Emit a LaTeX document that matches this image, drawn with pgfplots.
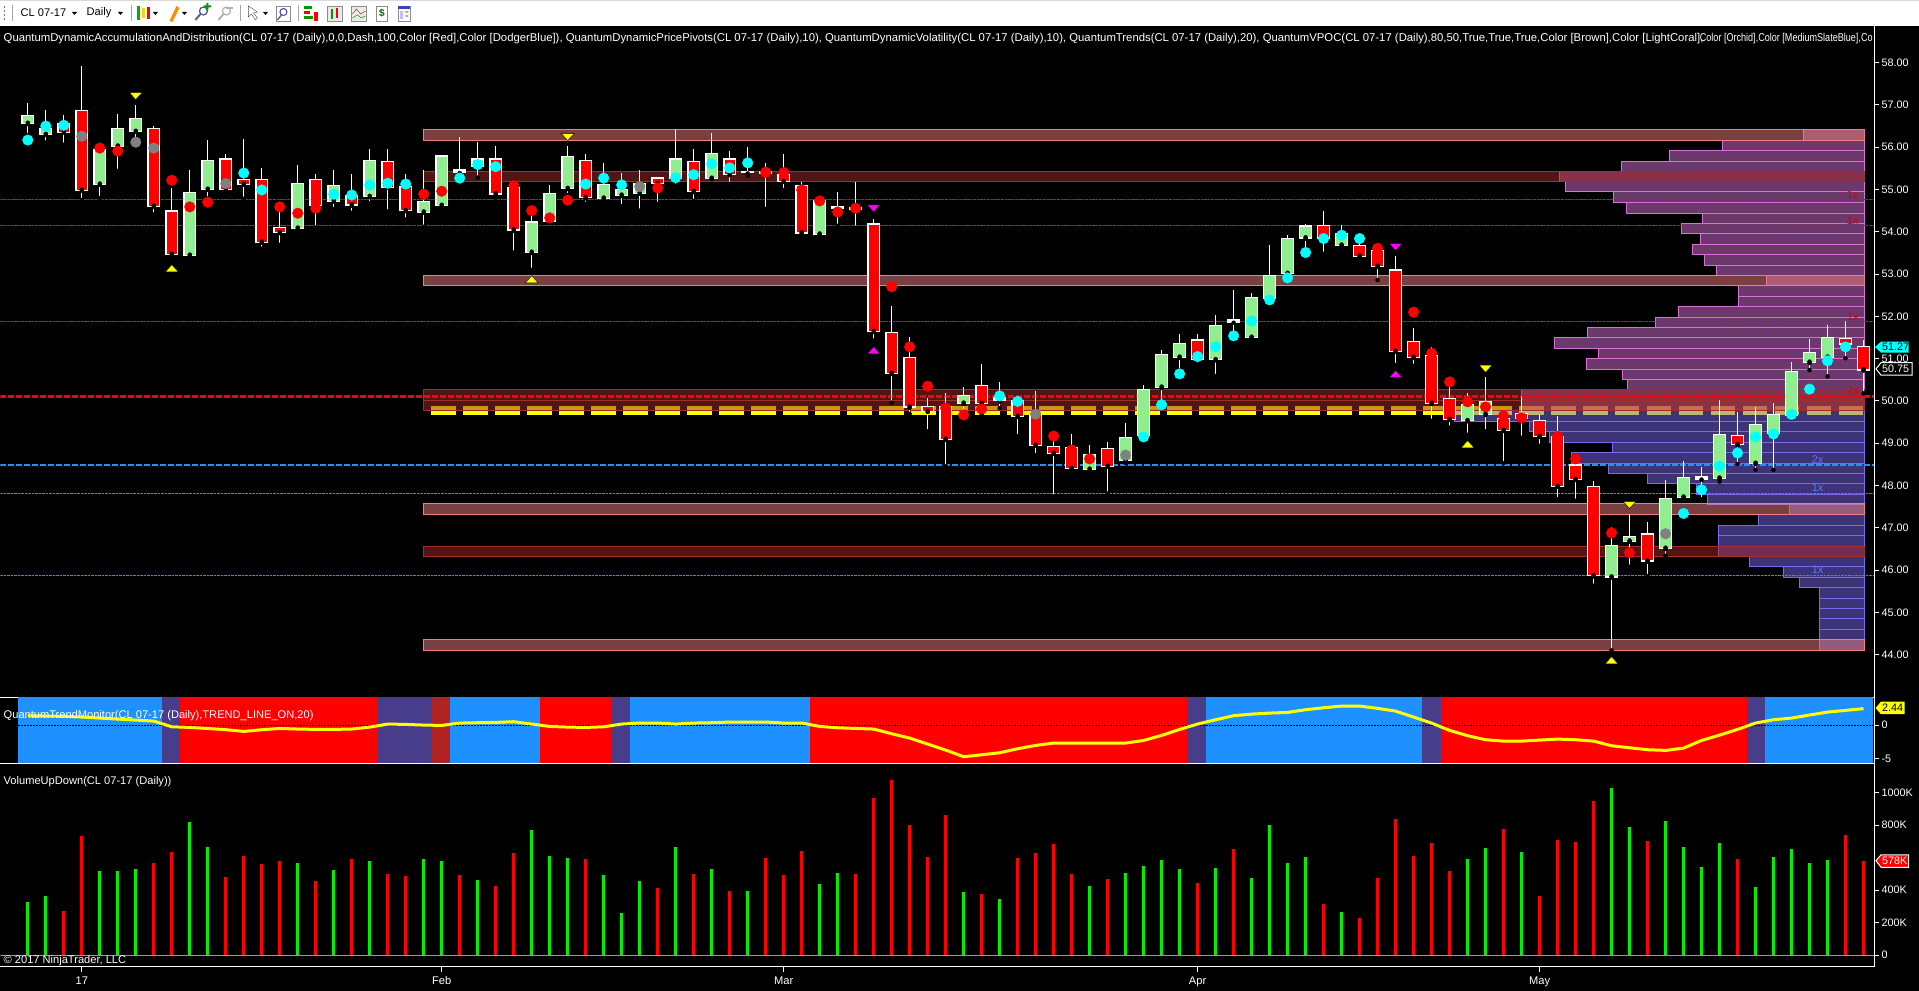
\documentclass[border=0pt]{standalone}
\usepackage{fontspec}
\setmainfont{Liberation Sans}
\usepackage{graphicx}
\usepackage{pgfplots}
\usepackage{pgfplotstable}
\pgfplotsset{compat=1.18}

\definecolor{dodger}{HTML}{1E90FF}
\definecolor{slateb}{HTML}{483D8B}
\definecolor{firebr}{HTML}{B22222}
\definecolor{lgreen}{HTML}{90EE90}
\definecolor{coral}{HTML}{F08080}
\definecolor{brownb}{HTML}{A52A2A}
\definecolor{orchid}{HTML}{DA70D6}
\definecolor{mslate}{HTML}{7B68EE}
\definecolor{volgreen}{HTML}{00F000}
\definecolor{dotcyan}{HTML}{00FFFF}
\definecolor{pivmag}{HTML}{FF00FF}
\definecolor{pivyel}{HTML}{FFFF00}
\definecolor{dotgray}{HTML}{808080}
\newcommand{\tk}{\fontsize{10.8}{12}\selectfont}
\newcommand{\lb}{\fontsize{11.1}{12}\selectfont}
\newcommand{\hd}{\fontsize{11.33}{12}\selectfont}

% candles: high, body top, body bottom, low
\pgfplotstableread{
i hi top bot lo
0 57.05 56.73 56.58 56.29
1 56.88 56.42 56.32 56.11
4 56.09 55.93 55.14 54.80
5 56.79 56.42 56.04 55.44
6 56.99 56.66 56.39 55.97
9 55.46 54.91 53.46 53.41
10 56.17 55.67 55.02 54.79
15 55.58 55.12 54.10 54.03
17 55.46 55.08 54.74 54.54
19 55.96 55.67 54.85 54.67
22 55.46 54.70 54.48 54.12
23 55.82 55.78 54.64 54.52
25 56.12 55.71 55.56 55.28
28 54.50 54.22 53.53 53.10
29 55.11 54.89 54.26 54.22
30 56.03 55.76 55.04 54.87
32 55.62 55.10 54.81 54.74
33 55.40 54.98 54.88 54.61
34 55.46 55.13 54.93 54.50
36 56.42 55.71 55.28 55.09
38 56.33 55.83 55.28 55.25
44 54.83 54.72 53.96 53.92
52 50.33 50.12 49.96 49.51
59 48.95 48.72 48.40 48.27
61 49.48 49.12 48.61 48.53
62 50.38 50.25 49.20 49.16
63 51.21 51.08 50.34 49.95
64 51.58 51.34 51.05 50.73
66 52.03 51.77 50.99 50.59
68 52.55 52.43 51.52 51.49
69 53.69 52.96 52.43 52.25
70 53.92 53.82 53.03 52.90
71 54.18 54.12 53.87 53.51
73 54.16 53.94 53.70 53.57
80 50.18 49.90 49.55 49.20
81 50.57 49.97 49.70 49.28
88 47.03 46.56 45.85 44.10
89 47.33 46.78 46.70 46.08
91 48.13 47.68 46.53 46.34
92 48.58 48.17 47.74 47.68
94 50.02 49.19 48.19 48.09
96 49.86 49.43 48.54 48.37
97 49.95 49.66 49.25 48.37
98 50.91 50.68 49.68 49.59
99 51.46 51.13 50.93 50.73
100 51.80 51.48 51.05 50.58
}\upbars
\pgfplotstableread{
i hi top bot lo
2 56.76 56.55 56.37 56.06
3 57.92 56.86 55.00 54.75
7 56.50 56.42 54.62 54.41
8 55.03 54.48 53.48 53.37
11 55.84 55.71 55.02 54.93
12 56.19 55.22 55.14 54.78
13 55.51 55.22 53.77 53.60
14 54.59 54.08 54.00 53.69
16 55.37 55.22 54.64 54.10
18 55.37 54.84 54.65 54.45
20 55.97 55.64 55.07 54.48
21 55.37 55.05 54.52 54.29
26 56.03 55.71 54.91 54.80
27 55.19 55.03 54.06 53.51
31 55.84 55.68 54.82 54.66
35 55.30 55.26 55.16 54.66
37 55.97 55.64 54.97 54.73
39 55.91 55.71 55.37 55.13
42 55.84 55.34 55.21 54.99
43 55.19 55.08 53.99 53.90
47 54.30 54.17 51.66 51.43
48 52.25 51.60 50.67 49.96
49 51.52 51.01 49.87 49.69
50 50.07 49.85 49.77 49.28
51 50.19 49.85 49.11 48.46
53 50.88 50.35 49.96 49.69
55 50.12 49.99 49.65 49.17
56 50.24 49.67 48.97 48.72
57 49.08 48.91 48.78 47.74
58 49.22 48.88 48.42 48.30
60 49.03 48.86 48.47 47.81
65 51.58 51.43 50.99 50.85
72 54.50 54.13 53.87 53.48
74 53.96 53.67 53.44 53.37
75 53.71 53.54 53.20 52.86
76 53.43 53.08 51.19 50.85
77 51.72 51.39 51.05 50.83
78 51.27 51.06 49.96 49.53
79 50.42 50.04 49.58 49.37
82 49.77 49.57 49.32 48.53
83 50.12 49.69 49.60 49.13
84 49.67 49.52 49.18 48.94
85 49.65 49.14 48.00 47.68
86 48.74 48.47 48.16 47.64
87 48.11 47.96 45.88 45.63
90 47.14 46.84 46.23 45.86
95 49.74 49.17 48.99 48.51
101 51.89 51.47 51.36 51.01
102 51.44 51.27 50.75 50.18
}\downbars
\pgfplotstableread{
i hi top bot lo
24 56.24 55.45 55.42 55.30
40 56.00 55.42 55.41 55.33
41 55.62 55.42 55.39 54.54
45 54.94 54.59 54.57 54.14
46 55.19 54.55 54.54 54.09
54 50.45 50.06 50.02 49.83
67 52.62 51.92 51.88 51.40
93 48.44 48.20 48.17 47.68
}\dojibars

% volume, thousands
\pgfplotstableread{
i v
0 328
1 365
4 518
5 518
6 531
9 820
10 666
15 568
17 525
19 580
22 592
23 580
25 463
28 770
29 611
30 598
32 494
33 260
34 457
36 666
38 531
40 395
44 439
45 506
52 389
54 346
59 426
61 506
62 549
63 586
64 531
66 537
68 475
69 801
70 568
71 604
73 266
80 592
81 660
83 635
88 1029
89 789
91 826
92 666
93 543
94 691
96 420
97 604
98 654
99 568
100 586
}\volup
\pgfplotstableread{
i v
2 273
3 734
7 568
8 635
11 482
12 611
13 561
14 580
16 457
18 592
20 500
21 488
24 494
26 426
27 629
31 592
35 414
37 500
39 395
41 598
42 494
43 641
46 500
47 967
48 1078
49 801
50 604
51 863
53 377
55 598
56 629
57 684
58 500
60 469
65 445
67 654
72 316
74 230
75 475
76 838
77 611
78 691
79 518
82 777
84 365
85 709
86 697
87 949
90 703
95 592
101 740
102 578
}\voldown

% trend monitor line
\pgfplotstableread{
i t
0 1.39
1 1.34
2 1.29
3 1.19
4 1.04
5 0.89
6 0.74
7 0.59
8 -0.25
9 -0.35
10 -0.50
11 -0.69
12 -0.94
13 -0.69
14 -0.50
15 -0.59
16 -0.64
17 -0.64
18 -0.59
19 -0.30
20 0.15
21 0.10
22 0
23 -0.05
24 0.30
25 0.35
26 0.40
27 0.50
28 0.15
29 -0.20
30 -0.30
31 -0.35
32 -0.25
33 0.15
34 0.30
35 0.30
36 0.15
37 0.30
38 0.35
39 0.45
40 0.45
41 0.45
42 0.30
43 0.30
44 -0.20
45 -0.40
46 -0.50
47 -0.59
48 -1.29
49 -1.93
50 -2.82
51 -3.71
52 -4.70
53 -4.41
54 -4.11
55 -3.51
56 -3.02
57 -2.67
58 -2.67
59 -2.67
60 -2.67
61 -2.67
62 -2.28
63 -1.53
64 -0.64
65 0.15
66 0.79
67 1.39
68 1.63
69 1.78
70 1.88
71 2.28
72 2.57
73 2.82
74 2.82
75 2.48
76 2.08
77 1.19
78 0.30
79 -0.79
80 -1.58
81 -2.18
82 -2.38
83 -2.38
84 -2.23
85 -2.08
86 -2.18
87 -2.38
88 -3.07
89 -3.37
90 -3.66
91 -3.76
92 -3.42
93 -2.28
94 -1.49
95 -0.64
96 0.30
97 0.79
98 1.04
99 1.49
100 1.93
101 2.18
102 2.44
}\trendline

\pgfplotsset{
  panel/.style={scale only axis, width=1874.3pt, anchor=south west,
    xmin=-1.5167, xmax=102.6,
    axis y line*=right,
    y axis line style={white, line width=1pt},
    ytick style={white, line width=1pt}, major tick length=5pt, tick align=outside,
    yticklabel style={white, font=\tk, anchor=west, inner sep=0pt, xshift=2pt},
    /pgf/number format/assume math mode=true},
  rng/.style 2 args={only marks, mark=none, forget plot,
    error bars/.cd, y dir=plus, y explicit, error mark=none,
    error bar style={draw=#1, line width=#2, solid}},
}
% price range drawn as a vertical bar
\newcommand{\wick}[1]{\addplot[rng={white}{1pt}] table[x=i, y=lo, y error plus expr=\thisrow{hi}-\thisrow{lo}] {#1};}
\newcommand{\outline}[1]{\addplot[rng={white}{12.7pt}] table[x=i, y expr=\thisrow{bot}-0.03, y error plus expr=\thisrow{top}-\thisrow{bot}+0.06] {#1};}
\newcommand{\body}[2]{\addplot[rng={#2}{10.3pt}] table[x=i, y=bot, y error plus expr=\thisrow{top}-\thisrow{bot}] {#1};}
% volume profile row: low, high, left end
\newcommand{\pb}[4]{\addplot[draw=#4, line width=1pt, fill=#4, fill opacity=0.5] coordinates {(#3,#1)(102.07,#1)(102.07,#2)(#3,#2)} -- cycle;}
% zone band
\newcommand{\zone}[4]{\addplot[draw=#4, line width=1pt, fill=#4, fill opacity=0.5] coordinates {(#3,#1)(102.07,#1)(102.07,#2)(#3,#2)} -- cycle;}
\newcommand{\level}[3]{\addplot[color=#2, #3] coordinates {(-1.5167,#1)(102.6,#1)};}
% trend monitor background
\newcommand{\seg}[3]{\addplot[fill=#3, draw=none] coordinates {(#1,-5.75)(#2,-5.75)(#2,4.1)(#1,4.1)} -- cycle;}

\begin{document}
\begin{tikzpicture}
\fill[black] (0,0) rectangle (1919pt,991pt);

% price panel
\begin{axis}[panel, at={(0pt,293pt)}, height=672pt,
    ymin=42.98, ymax=58.868, axis x line=none,
    ytick={44,45,...,58},
    yticklabel style={/pgf/number format/fixed, /pgf/number format/fixed zerofill, /pgf/number format/precision=2},
    clip=true]
\addplot[pivyel, line width=8.5pt, dash pattern=on 24.5pt off 7.5pt] coordinates {(22.42,49.78)(102.07,49.78)};

\pb{56.16}{56.42}{98.66}{orchid}
\pb{55.92}{56.16}{94.15}{orchid}
\pb{55.67}{55.92}{91.20}{orchid}
\pb{55.42}{55.67}{88.53}{orchid}
\pb{55.19}{55.42}{85.08}{orchid}
\pb{54.95}{55.19}{85.42}{orchid}
\pb{54.69}{54.95}{88.10}{orchid}
\pb{54.44}{54.69}{88.82}{orchid}
\pb{54.20}{54.44}{93.04}{orchid}
\pb{53.96}{54.20}{91.88}{orchid}
\pb{53.70}{53.96}{92.93}{orchid}
\pb{53.46}{53.70}{92.50}{orchid}
\pb{53.20}{53.46}{93.15}{orchid}
\pb{52.96}{53.20}{93.81}{orchid}
\pb{52.73}{52.96}{96.60}{orchid}
\pb{52.47}{52.73}{95.04}{orchid}
\pb{52.23}{52.47}{95.04}{orchid}
\pb{51.98}{52.23}{91.70}{orchid}
\pb{51.73}{51.98}{90.43}{orchid}
\pb{51.50}{51.73}{86.69}{orchid}
\pb{51.24}{51.50}{84.81}{orchid}
\pb{51.00}{51.24}{87.30}{orchid}
\pb{50.74}{51.00}{86.58}{orchid}
\pb{50.50}{50.74}{88.60}{orchid}
\pb{50.26}{50.50}{88.87}{orchid}
\pb{50.02}{50.26}{82.98}{orchid}
\pb{49.77}{50.02}{82.98}{orchid}
\pb{49.52}{49.77}{79.30}{mslate}
\pb{49.28}{49.52}{83.43}{mslate}
\pb{49.02}{49.28}{84.56}{mslate}
\pb{48.78}{49.02}{88.07}{mslate}
\pb{48.53}{48.78}{85.76}{mslate}
\pb{48.28}{48.53}{87.85}{mslate}
\pb{48.05}{48.28}{89.98}{mslate}
\pb{47.79}{48.05}{92.70}{mslate}
\pb{47.55}{47.79}{93.31}{mslate}
\pb{47.31}{47.55}{97.89}{mslate}
\pb{47.06}{47.31}{96.15}{mslate}
\pb{46.82}{47.06}{93.93}{mslate}
\pb{46.57}{46.82}{93.93}{mslate}
\pb{46.32}{46.57}{93.93}{mslate}
\pb{46.08}{46.32}{95.65}{mslate}
\pb{45.83}{46.08}{97.55}{mslate}
\pb{45.59}{45.83}{98.44}{mslate}
\pb{45.34}{45.59}{99.55}{mslate}
\pb{45.09}{45.34}{99.55}{mslate}
\pb{44.85}{45.09}{99.55}{mslate}
\pb{44.60}{44.85}{99.55}{mslate}
\pb{44.36}{44.60}{99.55}{mslate}
\pb{44.10}{44.36}{99.55}{mslate}

\zone{56.16}{56.42}{21.98}{coral}
\zone{55.19}{55.42}{21.98}{brownb}
\zone{52.73}{52.96}{21.98}{coral}
\zone{50.02}{50.26}{21.98}{brownb}
\zone{49.77}{50.02}{21.98}{brownb}
\zone{47.31}{47.57}{21.98}{coral}
\zone{46.32}{46.57}{21.98}{brownb}
\zone{44.10}{44.37}{21.98}{coral}

\level{54.77}{red}{line width=0.9pt, dash pattern=on 2.5pt off 1pt}
\level{54.15}{red}{line width=0.9pt, dash pattern=on 2.5pt off 1pt}
\level{51.88}{red}{line width=0.9pt, dash pattern=on 2.5pt off 1pt}
\level{50.11}{red}{line width=2.4pt, dash pattern=on 5.5pt off 2.5pt}
\level{48.48}{dodger}{line width=2.4pt, dash pattern=on 5.5pt off 2.5pt}
\level{47.82}{dodger}{line width=0.9pt, dash pattern=on 2.5pt off 1pt}
\level{45.88}{dodger}{line width=0.9pt, dash pattern=on 2.5pt off 1pt}

\wick{\upbars}
\wick{\downbars}
\wick{\dojibars}
\outline{\upbars}
\outline{\downbars}
\outline{\dojibars}
\body{\upbars}{lgreen}
\body{\downbars}{red}

% dots
\addplot[only marks, mark=*, mark size=5.3pt, color=red, mark options={draw=none, fill=red}] coordinates {
(4,55.98)(5,55.91)(8,55.22)(9,54.59)(10,54.70)(14,54.59)(15,54.44)(16,54.56)(22,54.89)(23,54.96)(27,55.09)(28,54.50)(29,54.33)(30,54.75)(35,55.04)(41,55.41)(42,55.40)(43,54.99)(44,54.73)(45,54.47)(46,54.56)(48,52.70)(49,51.28)(50,50.35)(51,49.83)(52,49.67)(53,49.81)(57,49.17)(58,48.84)(59,48.63)(75,53.61)(77,52.10)(78,51.13)(79,50.45)(80,49.98)(81,49.86)(82,49.65)(83,49.60)(85,49.16)(86,48.63)(88,46.88)(89,46.41)};
\addplot[only marks, mark=*, mark size=5.3pt, color=dotcyan, mark options={draw=none, fill=dotcyan}] coordinates {
(0,56.17)(1,56.50)(2,56.52)(12,55.39)(13,54.99)(17,54.89)(18,54.87)(19,55.11)(20,55.15)(21,55.13)(24,55.27)(25,55.59)(26,55.54)(31,55.13)(32,55.27)(33,55.11)(36,55.28)(37,55.35)(38,55.61)(39,55.51)(40,55.63)(54,50.12)(55,49.99)(62,49.15)(63,49.91)(64,50.64)(65,51.05)(66,51.28)(67,51.54)(68,51.89)(69,52.39)(70,52.91)(71,53.51)(72,53.84)(73,53.92)(74,53.84)(92,47.34)(93,47.90)(94,48.46)(95,48.77)(96,49.15)(97,49.22)(98,49.68)(99,50.28)(100,50.95)(101,51.28)};
\addplot[only marks, mark=*, mark size=5.3pt, color=dotgray, mark options={draw=none, fill=dotgray}] coordinates {
(3,56.26)(6,56.12)(7,55.98)(11,55.14)(34,55.07)(56,49.69)(61,48.72)(91,46.86)};

% pivots
\addplot[only marks, mark=triangle*, mark size=6pt, mark options={draw=none, fill=pivyel, xscale=1.25, yscale=0.8}] coordinates {(8,53.11)(28,52.85)(80,48.95)(88,43.84)};
\addplot[only marks, mark=triangle*, mark size=6pt, mark options={draw=none, fill=pivyel, xscale=1.25, yscale=-0.8}] coordinates {(6,57.24)(30,56.27)(81,50.79)(89,47.57)};
\addplot[only marks, mark=triangle*, mark size=6pt, mark options={draw=none, fill=pivmag, xscale=1.25, yscale=0.8}] coordinates {(47,51.17)(76,50.61)};
\addplot[only marks, mark=triangle*, mark size=6pt, mark options={draw=none, fill=pivmag, xscale=1.25, yscale=-0.8}] coordinates {(47,54.58)(76,53.67)};

\node[red!85!black, font=\lb] at (axis cs:101.4,54.88) {1x};
\node[red!85!black, font=\lb] at (axis cs:101.4,54.27) {1x};
\node[red!85!black, font=\lb] at (axis cs:101.4,52.0) {1x};
\node[red!85!black, font=\lb] at (axis cs:101.4,50.24) {2x};
\node[mslate!70!dodger, font=\lb] at (axis cs:99.45,48.62) {2x};
\node[mslate!70!dodger, font=\lb] at (axis cs:99.45,47.95) {1x};
\node[mslate!70!dodger, font=\lb] at (axis cs:99.45,46.0) {1x};
\end{axis}

% trend monitor panel
\begin{axis}[panel, at={(0pt,227pt)}, height=66pt,
    ymin=-5.75, ymax=4.05, axis x line=box, x axis line style={white, line width=1pt},
    xtick=\empty, ytick={-5,0}, yticklabels={-5,0}]
\seg{-0.52}{7.48}{dodger}
\seg{7.48}{8.48}{slateb}
\seg{8.48}{19.46}{red}
\seg{19.46}{22.47}{slateb}
\seg{22.47}{23.47}{firebr}
\seg{23.47}{28.48}{dodger}
\seg{28.48}{32.47}{red}
\seg{32.47}{33.47}{slateb}
\seg{33.47}{43.47}{dodger}
\seg{43.47}{64.48}{red}
\seg{64.48}{65.48}{slateb}
\seg{65.48}{77.47}{dodger}
\seg{77.47}{78.50}{slateb}
\seg{78.50}{95.50}{red}
\seg{95.50}{96.50}{slateb}
\seg{96.50}{102.50}{dodger}
\addplot[black, line width=0.8pt, dash pattern=on 2pt off 1pt] coordinates {(-0.52,0)(102.5,0)};
\addplot[pivyel, line width=3pt] table[x=i, y=t] {\trendline};
\end{axis}

% volume panel
\begin{axis}[panel, at={(0pt,24pt)}, height=203pt,
    ymin=-72, ymax=1176.5, axis x line=box, x axis line style={white, line width=1pt},
    xtick={3,23,42,65,84}, xticklabels={17,Feb,Mar,Apr,May},
    xtick pos=bottom, xticklabel pos=bottom,
    xtick style={white, line width=1pt},
    xticklabel style={white, font=\lb, inner sep=0pt, yshift=-5pt},
    ytick={0,200,400,800,1000}, yticklabels={0,200K,400K,800K,1000K}]
\addplot[gray!80!white, line width=1pt] coordinates {(-1.5167,0)(102.6,0)};
\addplot[ycomb, volgreen, line width=3pt] table[x=i, y=v] {\volup};
\addplot[ycomb, red, line width=3pt] table[x=i, y=v] {\voldown};
\end{axis}

% text, toolbar and price flags in screen pixels
\begin{scope}[x=1pt, y=-1pt, yshift=991pt, every node/.style={inner sep=0pt, font=\tk}]
\node[anchor=west, white, font=\hd] at (3,38.3) {QuantumDynamicAccumulationAndDistribution(CL 07-17 (Daily),0,0,Dash,100,Color [Red],Color [DodgerBlue]), QuantumDynamicPricePivots(CL 07-17 (Daily),10), QuantumDynamicVolatility(CL 07-17 (Daily),10), QuantumTrends(CL 07-17 (Daily),20), QuantumVPOC(CL 07-17 (Daily),80,50,True,True,True,Color [Brown],Color [LightCoral],};
\node[anchor=west, white, font=\hd] at (1699.6,38.3) {\scalebox{0.8}[1]{Color [Orchid],Color [MediumSlateBlue],Co}};
\node[anchor=west, white, font=\lb] at (3,716) {QuantumTrendMonitor(CL 07-17 (Daily),TREND\_LINE\_ON,20)};
\node[anchor=west, white, font=\lb] at (3,782) {VolumeUpDown(CL 07-17 (Daily))};
\node[anchor=west, white, font=\lb] at (3,961) {© 2017 NinjaTrader, LLC};

% toolbar
\fill[white] (0,0) rectangle (1919,26);
\fill[black!15] (0,0) rectangle (1919,1);
\foreach \x in {12,130.6,240,298} \draw[black!35] (\x,5) -- (\x,21);
\fill[black!50] (3.5,6) rectangle (4.5,8) (3.5,10) rectangle (4.5,12) (3.5,14) rectangle (4.5,16) (3.5,18) rectangle (4.5,20);
\node[anchor=west, black, font=\lb] at (20,13) {CL 07-17};
\node[anchor=west, black, font=\lb] at (86,13) {Daily};
\foreach \x in {74,120,155,184,265} \fill[black] (\x-2.5,12) -- (\x+2.5,12) -- (\x,15) -- cycle;
% chart style icon
\fill[green!70!black] (136.5,6) rectangle (139.5,20);
\fill[yellow!70!orange] (141.5,8) rectangle (144.5,18);
\fill[red] (146.5,7) rectangle (149.5,19);
% pencil
\fill[orange!90!yellow] (169,21) -- (176,6) -- (179,8) -- (172,22) -- cycle;
% zoom glasses
\draw[blue!40!gray, line width=1.2pt] (203,11) circle (4);
\draw[black!60, line width=2pt] (200,14) -- (195,20);
\fill[green!60!black] (206,3) rectangle (208,10) (203.5,5.5) rectangle (210.5,7.5);
\draw[black!30, line width=1.2pt] (226,11) circle (4);
\draw[black!30, line width=2pt] (223,14) -- (218,20);
\fill[black!30] (226,7) rectangle (233,9);
% cursor
\draw[black!70, fill=white] (248,6) -- (248,17) -- (251,14) -- (255,20) -- (257,18) -- (253,13) -- (257,12) -- cycle;
% find
\draw[black!45] (276,6) rectangle (290,21);
\draw[blue!50!gray, line width=1pt] (283,12) circle (3.5);
\draw[black!60, line width=1.4pt] (281,15) -- (277,20);
% right hand icons
\fill[green!60!black] (304,6) rectangle (312,9);
\fill[red] (304,11) rectangle (310,14);
\fill[green!60!black] (304,16) rectangle (313,19);
\fill[red] (314,12) rectangle (318,21);
\draw[black!45, fill=black!8] (327,6) rectangle (342,21);
\fill[green!60!black] (331,9) rectangle (333,19);
\fill[red] (336,8) rectangle (338,18);
\draw[black!45, fill=black!8] (351,6) rectangle (366,21);
\draw[red!80!black] (352,14) -- (356,9) -- (360,14) -- (365,11);
\draw[green!50!black] (352,18) -- (357,15) -- (361,18) -- (365,16);
\draw[black!45, fill=white] (376,6) rectangle (387,21);
\node[green!40!black, font=\bfseries\fontsize{10}{10}\selectfont] at (381.5,13.5) {\$};
\draw[black!45, fill=white] (398,6) rectangle (410,21);
\fill[blue!50!gray] (398,6) rectangle (410,9);
\fill[blue!25!white] (400,11) rectangle (403,19);
\fill[black!30] (405,11) rectangle (408,13) (405,15) rectangle (408,17);

% price flags
\fill[dotcyan] (1875,347.2) -- (1881,341.7) -- (1908.5,341.7) -- (1908.5,352.7) -- (1881,352.7) -- cycle;
\node[anchor=west, black] at (1882,347.2) {51.27};
\draw[white, fill=black, line width=1pt] (1876,369) -- (1881,362.7) -- (1912,362.7) -- (1912,375.3) -- (1881,375.3) -- cycle;
\node[anchor=west, white] at (1882,369) {50.75};
\fill[pivyel] (1875.5,708.3) -- (1881,701.7) -- (1904.5,701.7) -- (1904.5,714.3) -- (1881,714.3) -- cycle;
\node[anchor=west, black] at (1882,708.3) {2.44};
\draw[white, fill=red, line width=1pt] (1876,861) -- (1881,855) -- (1908.5,855) -- (1908.5,867.5) -- (1881,867.5) -- cycle;
\node[anchor=west, white] at (1882,861) {578K};
\end{scope}
\end{tikzpicture}
\end{document}
